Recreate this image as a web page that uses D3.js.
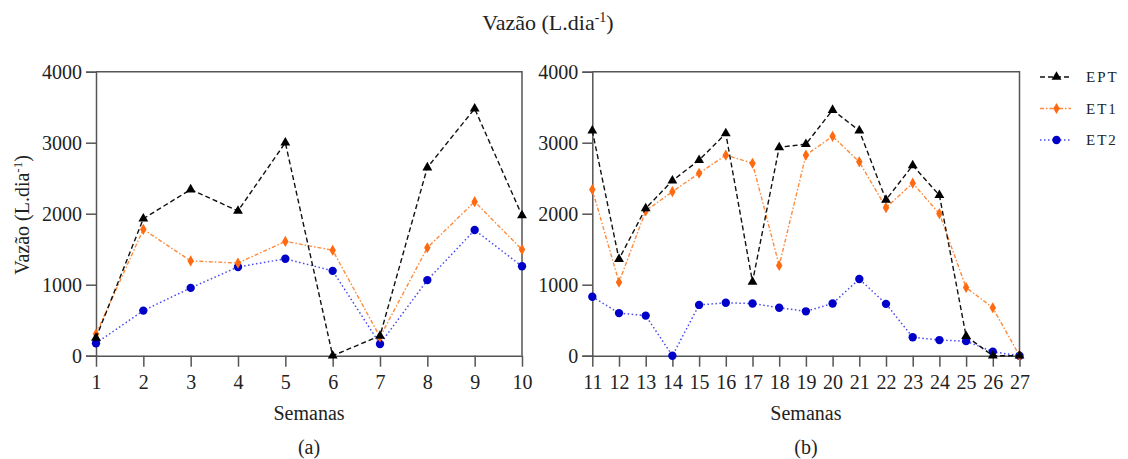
<!DOCTYPE html>
<html>
<head>
<meta charset="utf-8">
<script src="https://cdn.jsdelivr.net/npm/d3@7"></script>
<style>
  body { margin: 0; background: #fff; }
  svg text { font-family: "Liberation Serif", "Times New Roman", Times, "DejaVu Serif", serif; }
</style>
</head>
<body>
<svg id="chart"></svg>
<script>
let width = 1128
let height = 459
let serif = '"Liberation Serif", "Times New Roman", Times, "DejaVu Serif", serif'

// semanas
let weeksA = [1, 2, 3, 4, 5, 6, 7, 8, 9, 10]
let weeksB = [11, 12, 13, 14, 15, 16, 17, 18, 19, 20, 21, 22, 23, 24, 25, 26, 27]

// vazao (L.dia-1), painel (a)
let eptA = [250, 1930, 2340, 2040, 3000, 0, 280, 2650, 3480, 1975]
let et1A = [305, 1780, 1335, 1305, 1610, 1485, 265, 1520, 2170, 1495]
let et2A = [175, 635, 955, 1250, 1365, 1195, 165, 1065, 1770, 1260]

// vazao (L.dia-1), painel (b)
let eptB = [3170, 1360, 2075, 2465, 2755, 3130, 1040, 2935, 2980, 3460, 3170, 2195, 2680, 2260, 275, 0, 0]
let et1B = [2340, 1035, 2040, 2310, 2570, 2825, 2710, 1270, 2825, 3090, 2730, 2085, 2430, 2000, 960, 675, 0]
let et2B = [830, 600, 565, 0, 715, 745, 735, 675, 625, 735, 1080, 730, 260, 220, 205, 55, 0]

let yTicks = [0, 1000, 2000, 3000, 4000]
let seriesNames = ['EPT', 'ET1', 'ET2']

let styles = {
    EPT: { line: '#111', dash: '5,3', width: 1.4, marker: d3.symbolTriangle, size: 42, fill: '#000' },
    ET1: { line: '#ff8a3c', dash: '4,2,1.5,2', width: 1.4, marker: d3.symbolDiamond, size: 36, fill: '#ff6a10' },
    ET2: { line: '#4a4af0', dash: '1.5,2.5', width: 1.5, marker: d3.symbolCircle, size: 55, fill: '#0000c8' }
}

let svg = d3.select('#chart').attr('width', width).attr('height', height)

let yScale = d3.scaleLinear().domain([0, 4000]).range([355.7, 71.7])

let styleAxis = (a) => {
    a.attr('font-family', serif)
    a.selectAll('path, line').attr('stroke', '#555').attr('stroke-width', 1.5)
    a.selectAll('text').attr('font-size', 20).attr('font-family', serif).attr('fill', '#222')
}

let drawPanel = (weeks, series, x0, x1, label) => {
    let xScale = d3.scaleLinear()
        .domain([weeks[0], weeks[weeks.length - 1]])
        .range([x0, x1])

    let g = svg.append('g')

    // caixa superior / direita
    g.append('path')
        .attr('d', 'M' + x0 + ',' + yScale(4000) + 'H' + x1 + 'V' + yScale(0))
        .attr('fill', 'none')
        .attr('stroke', '#555')
        .attr('stroke-width', 1.5)

    let yAxis = d3.axisLeft(yScale).tickValues(yTicks).tickFormat(d3.format('d')).tickSize(10).tickPadding(4)
    g.append('g')
        .attr('transform', 'translate(' + x0 + ',0)')
        .call(yAxis)
        .call(styleAxis)

    let xAxis = d3.axisBottom(xScale).tickValues(weeks).tickFormat(d3.format('d')).tickSize(11).tickPadding(8).tickSizeOuter(0)
    g.append('g')
        .attr('transform', 'translate(0,' + yScale(0) + ')')
        .call(xAxis)
        .call(styleAxis)

    // ordem: ET2, ET1, EPT por cima
    ;['ET2', 'ET1', 'EPT'].forEach(name => {
        let st = styles[name]
        let vals = series[name]
        let line = d3.line()
            .x((d, i) => xScale(weeks[i]))
            .y(d => yScale(d))
        g.append('path')
            .datum(vals)
            .attr('d', line)
            .attr('fill', 'none')
            .attr('stroke', st.line)
            .attr('stroke-width', st.width)
            .attr('stroke-dasharray', st.dash)
        g.selectAll('.m-' + name)
            .data(vals)
            .enter()
            .append('path')
            .attr('class', 'm-' + name)
            .attr('d', d3.symbol().type(st.marker).size(st.size))
            .attr('transform', (d, i) => 'translate(' + xScale(weeks[i]) + ',' + yScale(d) + ')')
            .attr('fill', st.fill)
    })

    let cx = (x0 + x1) / 2
    g.append('text')
        .attr('x', cx)
        .attr('y', 420)
        .attr('text-anchor', 'middle')
        .attr('font-size', 20)
        .attr('fill', '#222')
        .text('Semanas')
    g.append('text')
        .attr('x', cx)
        .attr('y', 454)
        .attr('text-anchor', 'middle')
        .attr('font-size', 20)
        .attr('fill', '#222')
        .text(label)
}

drawPanel(weeksA, { EPT: eptA, ET1: et1A, ET2: et2A }, 96, 522, '(a)')
drawPanel(weeksB, { EPT: eptB, ET1: et1B, ET2: et2B }, 592.3, 1019.5, '(b)')

// titulo
let title = svg.append('text')
    .attr('x', 548)
    .attr('y', 30)
    .attr('text-anchor', 'middle')
    .attr('font-size', 22)
    .attr('fill', '#222')
title.append('tspan').text('Vazão (L.dia')
title.append('tspan').attr('font-size', 14).attr('dy', -8).text('-1')
title.append('tspan').attr('dy', 8).text(')')

// rotulo eixo y
let yLabel = svg.append('text')
    .attr('transform', 'translate(29,215) rotate(-90)')
    .attr('text-anchor', 'middle')
    .attr('font-size', 20)
    .attr('fill', '#222')
yLabel.append('tspan').text('Vazão (L.dia')
yLabel.append('tspan').attr('font-size', 13).attr('dy', -7).text('-1')
yLabel.append('tspan').attr('dy', 7).text(')')

// legenda
let legend = svg.append('g')
seriesNames.forEach((name, i) => {
    let st = styles[name]
    let y = 77 + i * 31.5
    legend.append('line')
        .attr('x1', 1040).attr('x2', 1071)
        .attr('y1', y).attr('y2', y)
        .attr('stroke', st.line)
        .attr('stroke-width', st.width)
        .attr('stroke-dasharray', st.dash)
    legend.append('path')
        .attr('d', d3.symbol().type(st.marker).size(st.size)())
        .attr('transform', 'translate(1056.5,' + y + ')')
        .attr('fill', st.fill)
    legend.append('text')
        .attr('x', 1086)
        .attr('y', y + 5)
        .attr('font-size', 15)
        .attr('letter-spacing', 2)
        .attr('fill', '#222')
        .text(name)
})
</script>
</body>
</html>
